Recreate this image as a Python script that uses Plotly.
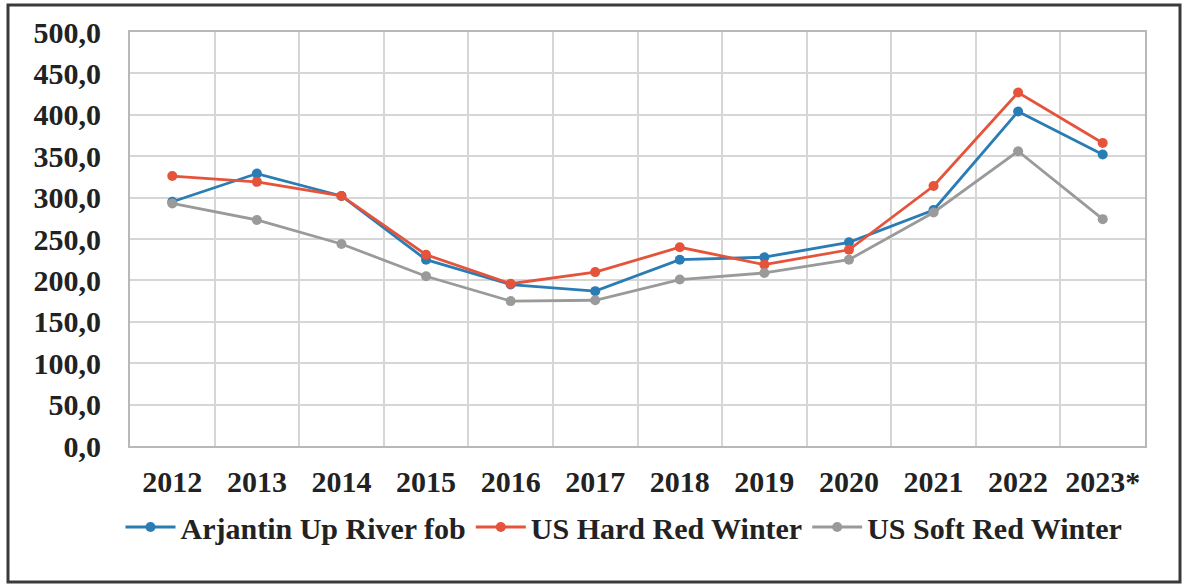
import plotly.graph_objects as go

years = ["2012", "2013", "2014", "2015", "2016", "2017", "2018", "2019", "2020", "2021", "2022", "2023*"]
arjantin = [295, 329, 302, 225, 195, 187, 225, 228, 246, 285, 404, 352]
us_hrw = [326, 319, 302, 231, 196, 210, 240, 219, 237, 314, 427, 366]
us_srw = [293, 273, 244, 205, 175, 176, 201, 209, 225, 282, 356, 274]

series = [
    ("Arjantin Up River fob", arjantin, "#2a7cb4"),
    ("US Hard Red Winter", us_hrw, "#e5533a"),
    ("US Soft Red Winter", us_srw, "#9a9a9a"),
]

font_family = "Liberation Serif, Times New Roman, serif"

fig = go.Figure()
for name, vals, col in series:
    fig.add_trace(go.Scatter(
        x=years, y=vals, name=name, mode="lines+markers",
        line=dict(color=col, width=2.8),
        marker=dict(color=col, size=10, symbol="circle"),
    ))

W, H = 1186, 587
L, R, T, B = 130, 41, 32, 141
pw, ph = W - L - R, H - T - B

def px_x(x):
    return (x - L) / pw

def px_y(y):
    return (H - B - y) / ph

fig.update_layout(
    width=W, height=H,
    margin=dict(l=L, r=R, t=T, b=B, autoexpand=False),
    paper_bgcolor="white", plot_bgcolor="white",
    separators=",.",
    font=dict(family=font_family, size=30, color="#222222"),
    showlegend=True,
    legend=dict(
        orientation="h", x=px_x(624), xanchor="center", y=px_y(527), yanchor="middle",
        font=dict(family=font_family, size=30, color="#222222", weight="bold"),
        bgcolor="rgba(0,0,0,0)", itemwidth=50, tracegroupgap=0,
    ),
    xaxis=dict(
        type="category", tickson="boundaries", showgrid=True, gridcolor="#d6d6d6", gridwidth=1.5,
        showline=True, linecolor="#b8b8b8", linewidth=2, mirror=True,
        ticks="", ticklabelstandoff=8,
        tickfont=dict(family=font_family, size=30, color="#222222", weight="bold"),
        range=[-0.5, len(years) - 0.5], fixedrange=True,
    ),
    yaxis=dict(
        range=[0, 500], dtick=50, tickformat=".1f",
        showgrid=True, gridcolor="#d6d6d6", gridwidth=1.5,
        showline=True, linecolor="#b8b8b8", linewidth=2, mirror=True,
        zeroline=False, ticks="", ticklabelstandoff=21,
        tickfont=dict(family=font_family, size=30, color="#222222", weight="bold"),
    ),
    shapes=[dict(
        type="rect", xref="paper", yref="paper",
        x0=px_x(8), x1=px_x(1180), y0=px_y(582), y1=px_y(5),
        line=dict(color="#3a3a3a", width=3), fillcolor="rgba(0,0,0,0)", layer="above",
    )],
)

fig.write_html("out.html", config={"displayModeBar": False},
               post_script="document.body.style.margin='0';")
